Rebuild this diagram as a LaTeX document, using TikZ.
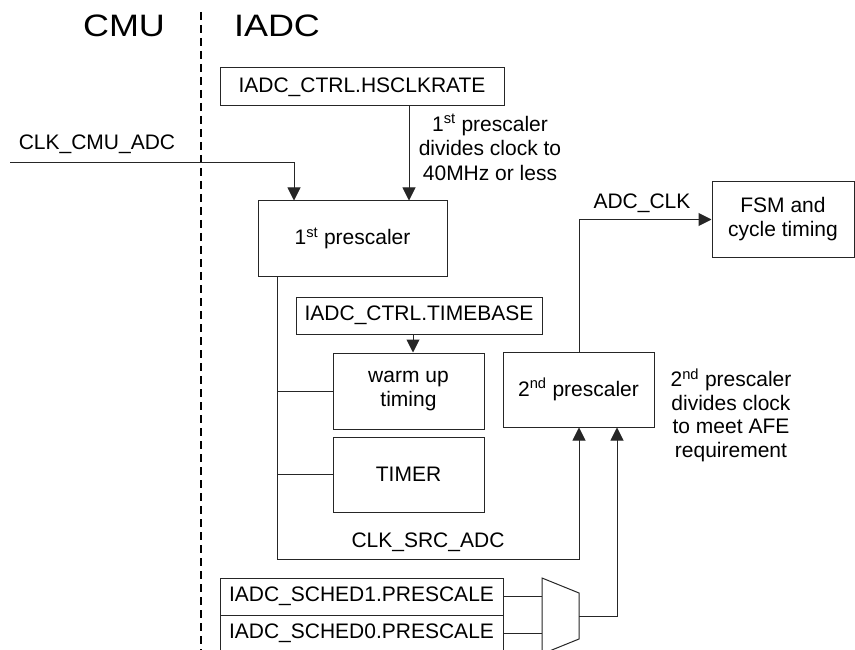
\documentclass[tikz,border=0pt]{standalone}
\usepackage{fontspec}
\setmainfont{Liberation Sans}
\usetikzlibrary{arrows.meta}
\begin{document}
\begin{tikzpicture}[x=1pt,y=-1pt,
  lw/.style={line width=1pt, draw=black!85},
  box/.style={lw, rectangle, inner sep=0pt, align=center, font=\fontsize{21}{24}\selectfont},
  arr/.style={lw, -{Triangle[length=13pt,width=13pt]}},
  wire/.style={lw},
  lbl/.style={inner sep=0pt, align=center, font=\fontsize{21}{24}\selectfont},
  big/.style={inner sep=0pt, font=\fontsize{31}{34}\selectfont},
  divider/.style={line width=1.3pt, dash pattern=on 8pt off 5pt}
]
\clip (0,0) rectangle (855,650);
\fill[white] (0,0) rectangle (855,650);

% titles
\node[big] (cmu) at (124,26) {\scalebox{1.16}[1]{CMU}};
\node[big] (iadc) at (277,26) {\scalebox{1.16}[1]{IADC}};
\coordinate (divtop) at (201,12);
\coordinate (divbot) at (201,652);
\draw[divider] (divtop) -- (divbot);

% boxes
\node[box, minimum width=284pt, minimum height=38pt] (hsclk) at (362,87) {IADC\_CTRL.HSCLKRATE};
\node[box, minimum width=189pt, minimum height=75pt] (pre1) at (352.5,238.5) {1\textsuperscript{st} prescaler};
\node[box, minimum width=246pt, minimum height=37pt] (timebase) at (419,315.5) {IADC\_CTRL.TIMEBASE};
\node[box, minimum width=151pt, minimum height=76pt] (warm) at (408.5,391) {warm up\\timing};
\node[box, minimum width=151pt, minimum height=75pt] (timer) at (408.5,474.5) {TIMER};
\node[box, minimum width=151pt, minimum height=75pt] (pre2) at (578.5,389.5) {2\textsuperscript{nd} prescaler};
\node[box, minimum width=142pt, minimum height=75pt] (fsm) at (783,219.5) {FSM and\\cycle timing};
\node[box, minimum width=283pt, minimum height=37pt] (sched1) at (361.5,596.5) {IADC\_SCHED1.PRESCALE};
\node[box, minimum width=283pt, minimum height=37pt] (sched0) at (361.5,633.5) {IADC\_SCHED0.PRESCALE};

% mux
\coordinate (mux1) at (542,578);
\coordinate (mux2) at (579,593);
\coordinate (mux3) at (579,639);
\coordinate (mux4) at (542,654);
\coordinate (muxout) at (579,616);
\draw[wire] (mux1) -- (mux2) -- (mux3) -- (mux4) -- cycle;

% helper coordinates
\coordinate (clkin) at (10,163);
\coordinate (xclk) at (294,0);
\coordinate (xhs) at (409,0);
\coordinate (xbus) at (277,0);
\coordinate (ybus) at (0,559);
\coordinate (xp2a) at (579,0);
\coordinate (xp2b) at (617,0);
\coordinate (xtb) at (413,0);

% connectors
\draw[arr] (clkin) -| (xclk |- pre1.north);
\draw[arr] (xhs |- hsclk.south) -- (xhs |- pre1.north);
\draw[arr] (xbus |- pre1.south) -- (xbus |- ybus) -| (xp2a |- pre2.south);
\draw[wire] (xbus |- warm.west) -- (warm.west);
\draw[wire] (xbus |- timer.west) -- (timer.west);
\draw[arr] (xtb |- timebase.south) -- (xtb |- warm.north);
\draw[arr] (xp2a |- pre2.north) |- (fsm.west);
\draw[wire] (sched1.east) -- (sched1.east -| mux1);
\draw[wire] (sched0.east) -- (sched0.east -| mux1);
\draw[arr] (muxout) -| (xp2b |- pre2.south);

% labels
\node[lbl] (lclk) at (97,144) {CLK\_CMU\_ADC};
\node[lbl, font=\fontsize{21}{24.5}\selectfont] (note1) at (490,147.5) {1\textsuperscript{st} prescaler\\divides clock to\\40MHz or less};
\node[lbl] (ladc) at (642,203) {ADC\_CLK};
\node[lbl, font=\fontsize{21}{23.5}\selectfont] (note2) at (731,415) {2\textsuperscript{nd} prescaler\\divides clock\\to meet AFE\\requirement};
\node[lbl] (lsrc) at (428,542) {CLK\_SRC\_ADC};
\end{tikzpicture}
\end{document}
